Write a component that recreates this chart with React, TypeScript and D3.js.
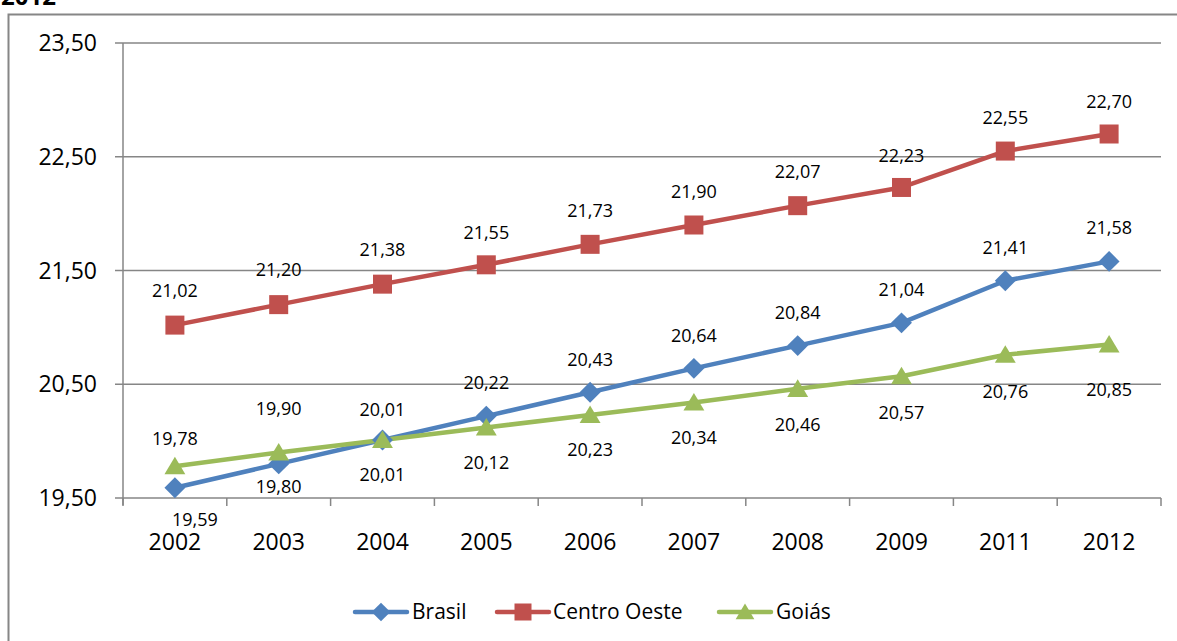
import * as d3 from "d3";
import React from "react";

const years = ["2002", "2003", "2004", "2005", "2006", "2007", "2008", "2009", "2011", "2012"];
const brasil = [19.59, 19.8, 20.01, 20.22, 20.43, 20.64, 20.84, 21.04, 21.41, 21.58];
const centroOeste = [21.02, 21.2, 21.38, 21.55, 21.73, 21.9, 22.07, 22.23, 22.55, 22.7];
const goias = [19.78, 19.9, 20.01, 20.12, 20.23, 20.34, 20.46, 20.57, 20.76, 20.85];
const yTicks = [19.5, 20.5, 21.5, 22.5, 23.5];

// label offsets (px) relative to each point, as placed in the original
const brasilDy = [32, 23, 35, -33, -33, -33, -33, -33, -33, -34];
const brasilDx = [20, 0, 0, 0, 0, 0, 0, 0, 0, 0];
const centroDy = [-34, -35, -34, -32, -34, -33, -34, -32, -33, -32];
const goiasDy = [-27, -44, -30, 35, 35, 35, 36, 36, 37, 45];
const noDx = years.map(() => 0);

const FONT = "'Open Sans', 'Liberation Sans', sans-serif";
const GRID = "#868686";

type Series = {
  name: string;
  values: number[];
  color: string;
  marker: "diamond" | "square" | "triangle";
  dy: number[];
  dx: number[];
};

const series: Series[] = [
  { name: "Brasil", values: brasil, color: "#4F81BD", marker: "diamond", dy: brasilDy, dx: brasilDx },
  { name: "Centro Oeste", values: centroOeste, color: "#C0504D", marker: "square", dy: centroDy, dx: noDx },
  { name: "Goiás", values: goias, color: "#9BBB59", marker: "triangle", dy: goiasDy, dx: noDx },
];

const fmt = (v: number) => d3.format(".2f")(v).replace(".", ",");

const Marker = ({ type, x, y, color, s }: { type: string; x: number; y: number; color: string; s: number }) => {
  if (type === "square") {
    return <rect x={x - s / 2} y={y - s / 2} width={s} height={s} fill={color} />;
  }
  if (type === "diamond") {
    const h = s * 0.55;
    return <path d={`M${x},${y - h}L${x + h},${y}L${x},${y + h}L${x - h},${y}Z`} fill={color} />;
  }
  const h = s * 0.5;
  return <path d={`M${x},${y - h}L${x + h * 1.1},${y + h * 0.85}L${x - h * 1.1},${y + h * 0.85}Z`} fill={color} />;
};

export default function App() {
  const width = 1177;
  const height = 641;
  const left = 123;
  const right = 1161;
  const top = 43;
  const bottom = 498;

  const x = d3.scaleBand<string>().domain(years).range([left, right]);
  const cx = (d: string) => (x(d) ?? 0) + x.bandwidth() / 2;
  const y = d3.scaleLinear().domain([19.5, 23.5]).range([bottom, top]);

  const line = d3
    .line<number>()
    .x((_, i) => cx(years[i]))
    .y((v) => y(v));

  const edges = years.map((d) => x(d) ?? 0).concat([right]);

  const legendItems = [
    { s: series[0], lx: 355, tx: 412 },
    { s: series[1], lx: 497, tx: 553 },
    { s: series[2], lx: 719, tx: 776 },
  ];

  return (
    <svg
      width={width}
      height={height}
      style={{ position: "absolute", left: 0, top: 0, background: "#fff" }}
      fontFamily={FONT}
    >
      <rect x={0} y={0} width={width} height={height} fill="#fff" />
      <text x={1} y={5} fontSize={24} fontWeight="bold" fill="#000">
        2012
      </text>
      {/* outer chart frame */}
      <path d={`M8.5,${height + 5}V14.5H${width + 5}`} fill="none" stroke={GRID} strokeWidth={2} />

      {/* grid + y axis */}
      {yTicks.map((t) => (
        <g key={t}>
          <line x1={left - 8} x2={right} y1={y(t)} y2={y(t)} stroke={GRID} strokeWidth={1.5} />
          <text x={97} y={y(t)} dy="0.35em" textAnchor="end" fontSize={23} fill="#000">
            {fmt(t)}
          </text>
        </g>
      ))}
      <line x1={left} x2={left} y1={top} y2={bottom + 7} stroke={GRID} strokeWidth={1.5} />
      {edges.map((e, i) => (
        <line key={i} x1={e} x2={e} y1={bottom} y2={bottom + 8} stroke={GRID} strokeWidth={1.5} />
      ))}
      {years.map((d) => (
        <text key={d} x={cx(d)} y={542} dy="0.35em" textAnchor="middle" fontSize={23} fill="#000">
          {d}
        </text>
      ))}

      {/* lines */}
      {series.map((s) => (
        <path
          key={s.name}
          d={line(s.values) ?? ""}
          fill="none"
          stroke={s.color}
          strokeWidth={4.5}
          strokeLinejoin="round"
        />
      ))}
      {series.map((s) =>
        s.values.map((v, i) => (
          <Marker key={s.name + i} type={s.marker} x={cx(years[i])} y={y(v)} color={s.color} s={19} />
        ))
      )}
      {series.map((s) =>
        s.values.map((v, i) => (
          <text
            key={"l" + s.name + i}
            x={cx(years[i]) + s.dx[i]}
            y={y(v) + s.dy[i]}
            dy="0.35em"
            textAnchor="middle"
            fontSize={18}
            fill="#000"
          >
            {fmt(v)}
          </text>
        ))
      )}

      {/* legend */}
      {legendItems.map(({ s, lx, tx }) => (
        <g key={s.name}>
          <line x1={lx} x2={lx + 52} y1={612} y2={612} stroke={s.color} strokeWidth={4.5} strokeLinecap="round" />
          <Marker type={s.marker} x={lx + 26} y={612} color={s.color} s={17} />
          <text x={tx} y={612} dy="0.35em" fontSize={21} fill="#000">
            {s.name}
          </text>
        </g>
      ))}
    </svg>
  );
}
